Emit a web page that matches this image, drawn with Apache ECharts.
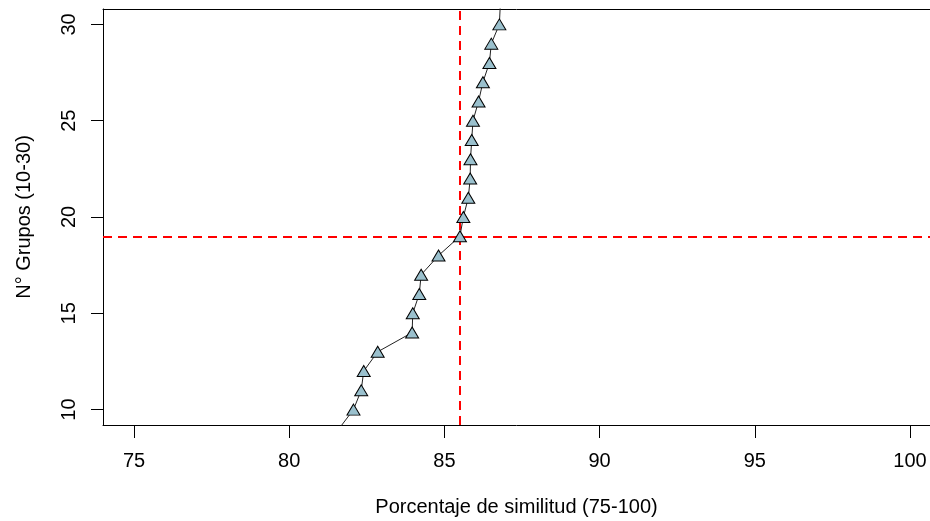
<!DOCTYPE html>
<html>
<head>
<meta charset="utf-8">
<script src="https://cdn.jsdelivr.net/npm/echarts@6/dist/echarts.min.js"></script>
<style>
html,body{margin:0;padding:0;background:#fff;}
#chart{width:930px;height:521px;}
</style>
</head>
<body>
<div id="chart"></div>
<script>
// Data
var groups = [9, 10, 11, 12, 13, 14, 15, 16, 17, 18, 19, 20, 21, 22, 23, 24, 25, 26, 27, 28, 29, 30, 31];
var similarity = [81.60, 82.07, 82.32, 82.40, 82.85, 83.96, 83.98, 84.19, 84.25, 84.81, 85.50, 85.61, 85.77, 85.83, 85.84, 85.88, 85.92, 86.10, 86.24, 86.45, 86.51, 86.77, 86.80];
var xTicks = [75, 80, 85, 90, 95, 100];
var yTicks = [10, 15, 20, 25, 30];
var refX = 85.5;
var refY = 19;

var points = similarity.map(function (v, i) { return [v, groups[i]]; });

var font = 'Liberation Sans, Arial, sans-serif';
var axisLineStyle = {color: '#000', width: 1};
var chart = echarts.init(document.getElementById('chart'), null, {renderer: 'canvas'});
chart.setOption({
  animation: false,
  backgroundColor: '#ffffff',
  grid: {
    left: 103, top: 9, right: 0, height: 416,
    show: false, containLabel: false, outerBoundsMode: 'none'
  },
  xAxis: [{
    type: 'value', min: 74, max: 100.645,
    name: 'Porcentaje de similitud (75-100)',
    nameLocation: 'middle', nameGap: 72,
    nameTextStyle: {fontFamily: font, fontSize: 20, color: '#000', lineHeight: 20},
    axisLine: {show: true, onZero: false, lineStyle: axisLineStyle},
    splitLine: {show: false},
    axisTick: {show: true, length: 13, customValues: xTicks, lineStyle: {color: '#000', width: 1}},
    axisLabel: {customValues: xTicks, margin: 26, fontFamily: font, fontSize: 20, color: '#000'}
  }, {
    type: 'value', min: 74, max: 100.645, position: 'top',
    axisLine: {show: true, onZero: false, lineStyle: axisLineStyle},
    axisTick: {show: false}, axisLabel: {show: false}, splitLine: {show: false}
  }],
  yAxis: {
    type: 'value', min: 9.2, max: 30.8,
    name: 'N° Grupos (10-30)',
    nameLocation: 'middle', nameGap: 69, nameRotate: 90,
    nameTextStyle: {fontFamily: font, fontSize: 20, color: '#000'},
    axisLine: {show: true, onZero: false, lineStyle: axisLineStyle},
    splitLine: {show: false},
    axisTick: {show: true, length: 12, customValues: yTicks, lineStyle: {color: '#000', width: 1}},
    axisLabel: {customValues: yTicks, rotate: 90, margin: 24, fontFamily: font, fontSize: 20, color: '#000'}
  },
  series: [{
    type: 'line',
    data: points,
    clip: true,
    symbol: 'triangle',
    symbolSize: [13, 11],
    lineStyle: {color: '#222', width: 1},
    itemStyle: {color: '#9AC0CD', borderColor: '#000', borderWidth: 1},
    z: 3,
    markLine: {
      silent: true,
      symbol: 'none',
      label: {show: false},
      lineStyle: {color: '#ff0000', width: 2, type: [9, 6]},
      data: [{xAxis: refX}, {yAxis: refY}],
      z: 2
    }
  }]
});
</script>
</body>
</html>
